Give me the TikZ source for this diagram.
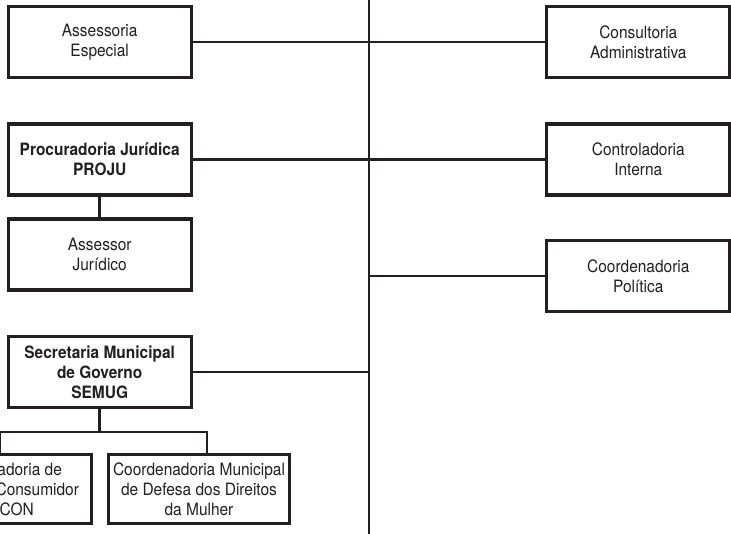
\documentclass[tikz,border=0pt]{standalone}
\usepackage{fontspec}
\setmainfont[FakeStretch=0.91]{TeX Gyre Heros}
\usetikzlibrary{positioning}
\definecolor{ink}{RGB}{35,31,32}
\tikzset{
  unit/.style={rectangle, draw=ink, line width=3.2pt, minimum width=183pt, minimum height=71pt, inner sep=0pt, outer sep=0pt, align=center, text=ink, font=\fontsize{17}{20}\selectfont},
  head/.style={unit, font=\fontsize{17}{20}\selectfont\bfseries},
  link/.style={draw=ink, line width=2.9pt}
}

\begin{document}
\begin{tikzpicture}[x=1pt, y=-1pt]
    \useasboundingbox (0,0) rectangle (731,534);
    \clip (0,0) rectangle (731,534);

    % Main axis
    \coordinate (top) at (369,0);
    \coordinate (bot) at (369,534);
    \draw[link] (top) -- (bot);

    % Left column
    \node[unit] (ae) at (99.7,42) {Assessoria\\Especial};
    \node[head] (proju) at (99.7,159.5) {Procuradoria Jurídica\\PROJU};
    \node[unit] (aj) at (99.7,254.5) {Assessor\\Jurídico};
    \node[head] (semug) at (99.7,372) {Secretaria Municipal\\de Governo\\SEMUG};

    % Right column
    \node[unit] (ca) at (638.3,42) {Consultoria\\Administrativa};
    \node[unit] (ci) at (638.3,159.5) {Controladoria\\Interna};
    \node[unit] (cp) at (638.3,276) {Coordenadoria\\Política};

    % Units under SEMUG
    \node[unit, minimum height=69pt] (procon) at (0,489) {Coordenadoria de\\Defesa do Consumidor\\PROCON};
    \node[unit, minimum width=181pt, minimum height=69pt] (mulher) at (199,489) {Coordenadoria Municipal\\de Defesa dos Direitos\\da Mulher};

    % Links
    \draw[link] (ae) -- (ca);
    \draw[link] (proju) -- (ci);
    \draw[link] (cp.west) -- (cp.west -| top);
    \draw[link] (semug.east) -- (semug.east -| top);
    \draw[link] (proju) -- (aj);
    \coordinate (bus) at (99.7,432);
    \draw[link] (semug) -- (bus);
    \draw[link] (procon.north) |- (bus) -| ([xshift=8pt]mulher.north);
\end{tikzpicture}
\end{document}
